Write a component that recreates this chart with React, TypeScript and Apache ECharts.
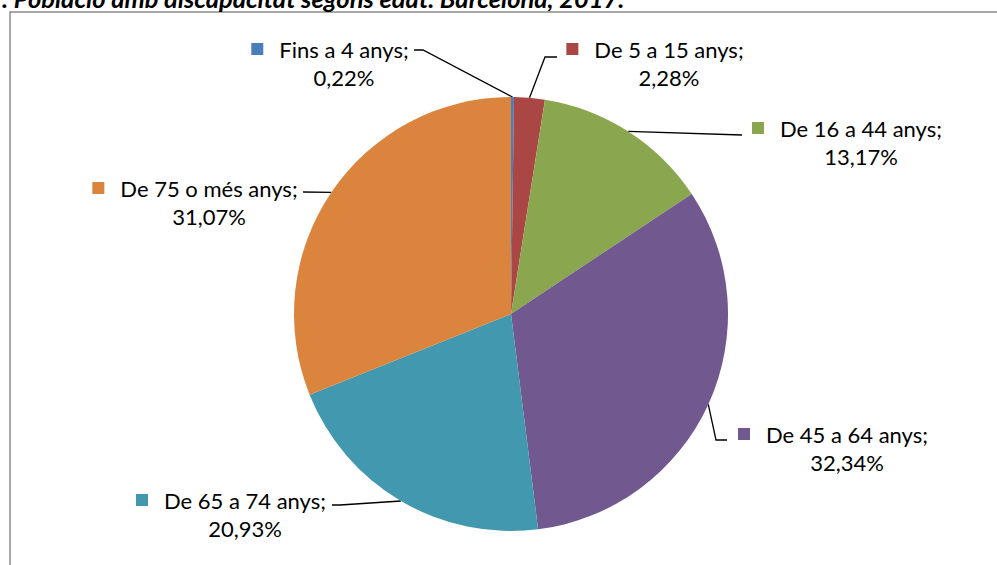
import React, { useEffect, useRef } from "react";
import * as echarts from "echarts";

const categories = ["Fins a 4 anys", "De 5 a 15 anys", "De 16 a 44 anys", "De 45 a 64 anys", "De 65 a 74 anys", "De 75 o més anys"];
const values = [0.22, 2.28, 13.17, 32.34, 20.93, 31.07];
const colors = ["#4A7EBB", "#AA4643", "#8AA64F", "#71588F", "#4198AF", "#DB843D"];
const titleText = ". Població amb discapacitat segons edat. Barcelona, 2017.";

// label layout (block centres and leader-line elbows)
const labelLayoutPos = [
  { x: 330, y: 63, elbow: [423, 50], end: [414, 50] },
  { x: 655, y: 63, elbow: [545, 57], end: [557, 57] },
  { x: 847, y: 142, elbow: [742, 135], end: [742, 135] },
  { x: 833, y: 448, elbow: [716, 440], end: [727, 440] },
  { x: 231, y: 514, elbow: [340, 505], end: [332, 505] },
  { x: 195, y: 202, elbow: [303, 192], end: [303, 192] },
];

const FONT = "Lato";
const FS = 22;

export default function App() {
  const ref = useRef<HTMLDivElement>(null);
  useEffect(() => {
    if (!ref.current) return;
    const chart = echarts.init(ref.current, null, { renderer: "svg" });
    const rich: any = {
      g: { width: 16, height: 12 },
      sp: { width: 28, height: 12 },
      n: { fontFamily: FONT, fontSize: FS, color: "#000", lineHeight: 28 },
      v: { fontFamily: FONT, fontSize: FS, color: "#000", lineHeight: 28 },
    };
    colors.forEach((c, i) => {
      rich["sq" + i] = { width: 12, height: 12, backgroundColor: c };
    });
    chart.setOption({
      animation: false,
      graphic: [
        {
          type: "rect",
          shape: { x: 10, y: 12, width: 1100, height: 700 },
          style: { fill: "none", stroke: "#8C8C8C", lineWidth: 1.5 },
          silent: true,
        },
        {
          type: "text",
          x: 2,
          y: 11,
          style: {
            text: titleText,
            fontFamily: FONT,
            fontSize: 25.5,
            fontStyle: "italic",
            fontWeight: "bold",
            fill: "#000",
            textAlign: "left",
            textVerticalAlign: "bottom",
          },
        },
      ],
      series: [
        {
          type: "pie",
          center: [511, 314],
          radius: 217,
          startAngle: 90,
          clockwise: true,
          avoidLabelOverlap: false,
          itemStyle: { borderWidth: 0 },
          emphasis: { disabled: true },
          data: categories.map((name, i) => ({
            name,
            value: values[i],
            itemStyle: { color: colors[i] },
          })),
          label: {
            show: true,
            position: "outside",
            align: "center",
            formatter: (p: any) =>
              `{sq${p.dataIndex}|}{g|}{n|${p.name};}\n{sp|}{v|${values[p.dataIndex].toFixed(2).replace(".", ",")}%}`,
            rich,
          },
          labelLine: {
            show: true,
            lineStyle: { color: "#000", width: 1.3 },
          },
          labelLayout: (params: any) => {
            const L = labelLayoutPos[params.dataIndex];
            const start = params.labelLinePoints ? params.labelLinePoints[0] : L.elbow;
            return {
              x: L.x,
              y: L.y,
              align: "center",
              verticalAlign: "middle",
              labelLinePoints: [start, L.elbow, L.end],
            };
          },
        },
      ],
    });
    return () => chart.dispose();
  }, []);
  return (
    <div
      ref={ref}
      style={{ position: "absolute", left: 0, top: 0, width: 997, height: 565, background: "#fff" }}
    />
  );
}
